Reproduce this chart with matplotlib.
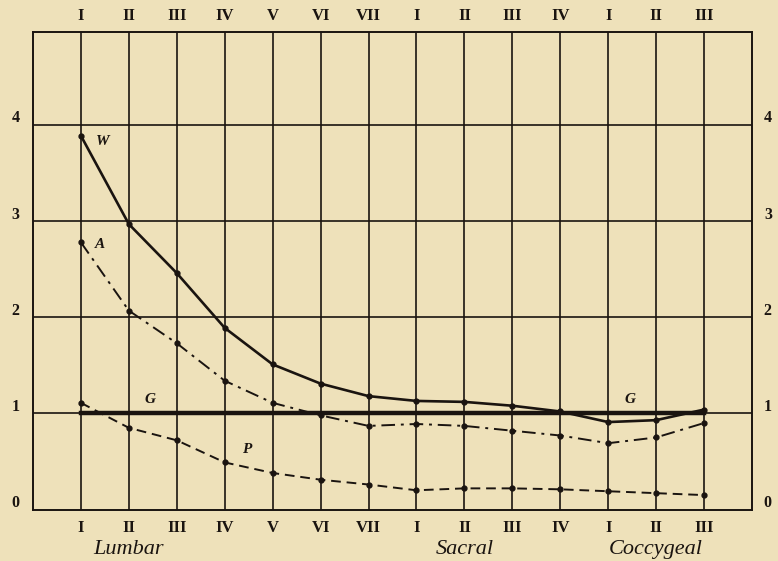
import numpy as np
import matplotlib.pyplot as plt

# vertebra positions and labels
vertebrae = ["I", "II", "III", "IV", "V", "VI", "VII",
             "I", "II", "III", "IV",
             "I", "II", "III"]
x = np.arange(1, len(vertebrae) + 1)

# curves
W = [3.89, 2.97, 2.46, 1.89, 1.51, 1.31, 1.18, 1.13, 1.12, 1.08, 1.02, 0.91, 0.93, 1.04]
A = [2.78, 2.07, 1.73, 1.34, 1.11, 0.98, 0.87, 0.89, 0.87, 0.82, 0.77, 0.69, 0.75, 0.90]
P = [1.11, 0.85, 0.72, 0.49, 0.38, 0.31, 0.26, 0.20, 0.22, 0.22, 0.21, 0.19, 0.17, 0.15]
G = [1.0] * len(vertebrae)

regions = ["Lumbar", "Sacral", "Coccygeal"]
region_x = [2.0, 9.0, 13.0]
y_ticks = [0, 1, 2, 3, 4]

bg = "#EEE1BA"
ink = "#1a1410"

fig = plt.figure(figsize=(7.78, 5.61), dpi=100, facecolor=bg)
ax = fig.add_axes([0.0424, 0.0918, 0.9242, 0.8512])
ax.set_facecolor(bg)
ax.set_xlim(0, 15)
ax.set_ylim(0, 4.97)

# grid
for xi in x:
    ax.axvline(xi, color=ink, lw=1.2, zorder=1)
for yi in y_ticks[1:]:
    ax.axhline(yi, color=ink, lw=1.2, zorder=1)
for s in ax.spines.values():
    s.set_color(ink)
    s.set_linewidth(1.4)

ax.plot(x, G, color=ink, lw=3.2, zorder=2)
ax.plot(x, W, color=ink, lw=1.9, ls="-", marker="o", ms=3.5, mfc=ink, zorder=3)
ax.plot(x, A, color=ink, lw=1.4, ls=(0, (7, 3, 1.5, 3)), marker="o", ms=3.5, mfc=ink, zorder=3)
ax.plot(x, P, color=ink, lw=1.4, ls=(0, (5, 3)), marker="o", ms=3.5, mfc=ink, zorder=3)

ax.set_xticks([])
ax.set_yticks([])

serif = ["Liberation Serif", "DejaVu Serif"]
for xi, lab in zip(x, vertebrae):
    ax.text(xi, 4.97 + 0.17, lab, ha="center", va="center", fontsize=12,
            fontweight="bold", family=serif, color=ink, clip_on=False)
    ax.text(xi, -0.19, lab, ha="center", va="center", fontsize=12,
            fontweight="bold", family=serif, color=ink, clip_on=False)
for yi in y_ticks:
    ax.text(-0.37, yi + 0.07, str(yi), ha="center", va="center", fontsize=11.5,
            fontweight="bold", family=serif, color=ink, clip_on=False)
    ax.text(15.33, yi + 0.07, str(yi), ha="center", va="center", fontsize=11.5,
            fontweight="bold", family=serif, color=ink, clip_on=False)
for rx, lab in zip(region_x, regions):
    ax.text(rx, -0.42, lab, ha="center", va="center", fontsize=16,
            style="italic", family=serif, color=ink, clip_on=False)

# curve letters
lbl = dict(fontsize=11, style="italic", fontweight="bold", family=serif, color=ink)
ax.text(1.45, 3.83, "W", ha="center", va="center", **lbl)
ax.text(1.4, 2.76, "A", ha="center", va="center", **lbl)
ax.text(2.45, 1.15, "G", ha="center", va="center", **lbl)
ax.text(12.45, 1.15, "G", ha="center", va="center", **lbl)
ax.text(4.45, 0.62, "P", ha="center", va="center", **lbl)

fig.savefig("out.png", dpi=100, facecolor=bg)
